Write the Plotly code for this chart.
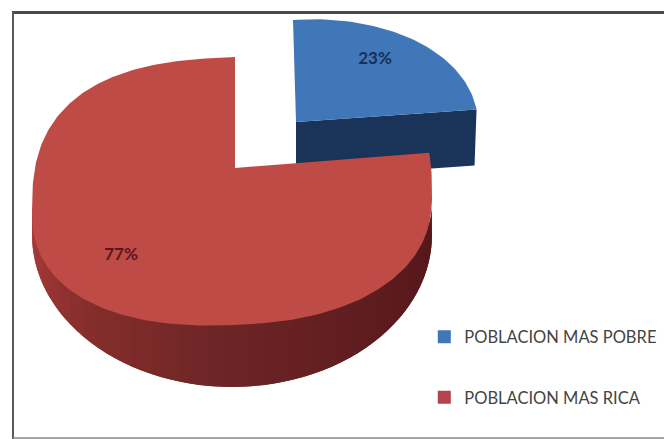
import numpy as np
import plotly.graph_objects as go

# ---- data ----
categories = ["POBLACION MAS POBRE", "POBLACION MAS RICA"]
shares = [23, 77]
labels = ["23%", "77%"]

# ---- styling ----
BLUE_TOP, BLUE_SIDE, BLUE_LBL = "#4077b8", "#1a3359", "#16305a"
RED_TOP, RED_LBL = "#bf4b47", "#5a1522"
FONT = "Lato"
W, H = 664, 439

sweep = [s / sum(shares) * 360 for s in shares]


def warp(t):
    return t - 4 * np.sin(np.radians(t))


def red_rim(t):
    """Point on the rim of the large slice's upper face, t degrees clockwise from the top."""
    a = np.radians(warp(np.asarray(t, dtype=float)))
    s, c = np.sin(a), np.cos(a)
    p = np.where(c >= 0, 2.7, 2.3)
    ry = np.where(c >= 0, 147, 121)
    rx = np.where(s >= 0, 197, 203)
    x = 235 + rx * np.sign(s) * np.abs(s) ** (2 / p)
    y = 204 - ry * np.sign(c) * np.abs(c) ** (2 / p) - 0.04 * (x - 235)
    return x, y


def red_base(t):
    a = np.radians(np.asarray(t, dtype=float))
    return 232 + 200 * np.sin(a), 235 - 152 * np.cos(a)


def blue_rim(t):
    a = np.radians(np.asarray(t, dtype=float))
    x = 293 + 185 * np.sin(a)
    return x, 137 - 117 * np.cos(a) - 0.07 * (x - 293)


def wall_colour(t):
    stops_t = [90, 130, 180, 225, 255, 270]
    r = np.interp(t, stops_t, [0x55, 0x5c, 0x6c, 0x85, 0xa0, 0xad])
    g = np.interp(t, stops_t, [0x16, 0x1b, 0x24, 0x2e, 0x38, 0x3c])
    b = np.interp(t, stops_t, [0x1a, 0x1e, 0x25, 0x2c, 0x36, 0x3a])
    return f"rgb({r:.0f},{g:.0f},{b:.0f})"


fig = go.Figure()


def poly(x, y, colour):
    fig.add_trace(go.Scatter(
        x=list(x), y=list(y), mode="lines", fill="toself", fillcolor=colour,
        line=dict(color=colour, width=0), hoverinfo="skip", showlegend=False))


# blue slice: side wall then top face
bt = np.linspace(0, sweep[0], 60)
bx, by = blue_rim(bt)
poly([296, bx[-1], bx[-1] - 2, 296], [122, by[-1], by[-1] + 56, 178], BLUE_SIDE)
poly(np.r_[296, bx], np.r_[122, by], BLUE_TOP)

# large slice: shaded outer wall in overlapping strips, their upper end hidden by the top face
edges = np.arange(270, 89.9, -3)
for t0 in edges[:-1]:
    ts = np.linspace(max(t0 - 6, 90), t0, 5)
    ex, ey = red_base(ts)
    rise = 30 + 45 * np.abs(np.cos(np.radians(ts)))
    poly(np.r_[ex, ex[::-1]], np.r_[ey, (ey - rise)[::-1]], wall_colour(t0 - 1.5))

# large slice: top face
rt = np.linspace(sweep[0], 360, 240)
rx, ry = red_rim(rt)
poly(np.r_[235, rx], np.r_[168, ry], RED_TOP)

# percentage labels
fig.add_trace(go.Scatter(
    x=[375, 121], y=[60, 256], mode="text", text=labels, hoverinfo="skip", showlegend=False,
    textfont=dict(family=FONT, size=17, color=[BLUE_LBL, RED_LBL], weight="bold")))

# legend entries
for name, colour in zip(categories, [BLUE_TOP, "#b5434f"]):
    fig.add_trace(go.Scatter(
        x=[None], y=[None], mode="markers", name=name, legendgroup=name,
        marker=dict(symbol="square", size=13, color=colour)))


def frame_line(x0, y0, x1, y1, colour, width):
    return dict(type="line", xref="x", yref="y", x0=x0, y0=y0, x1=x1, y1=y1,
                line=dict(color=colour, width=width), layer="below")


fig.update_layout(
    width=W, height=H, margin=dict(l=0, r=0, t=0, b=0),
    paper_bgcolor="white", plot_bgcolor="white",
    xaxis=dict(range=[0, W], visible=False, fixedrange=True),
    yaxis=dict(range=[H, 0], visible=False, fixedrange=True),
    shapes=[
        frame_line(12, 12.5, W, 12.5, "#4a4a4a", 3),
        frame_line(13, 12, 13, H, "#5a5a5a", 2),
        frame_line(13, 438, W, 438, "#888888", 1.5),
    ],
    legend=dict(x=0.639, y=0.272, xanchor="left", yanchor="top", bgcolor="rgba(0,0,0,0)",
                tracegroupgap=36, itemwidth=30,
                font=dict(family=FONT, size=16.5, color="#444444")),
)

fig.write_html("out.html", config=dict(displayModeBar=False),
               post_script="document.body.style.margin='0';document.body.style.overflow='hidden';")
